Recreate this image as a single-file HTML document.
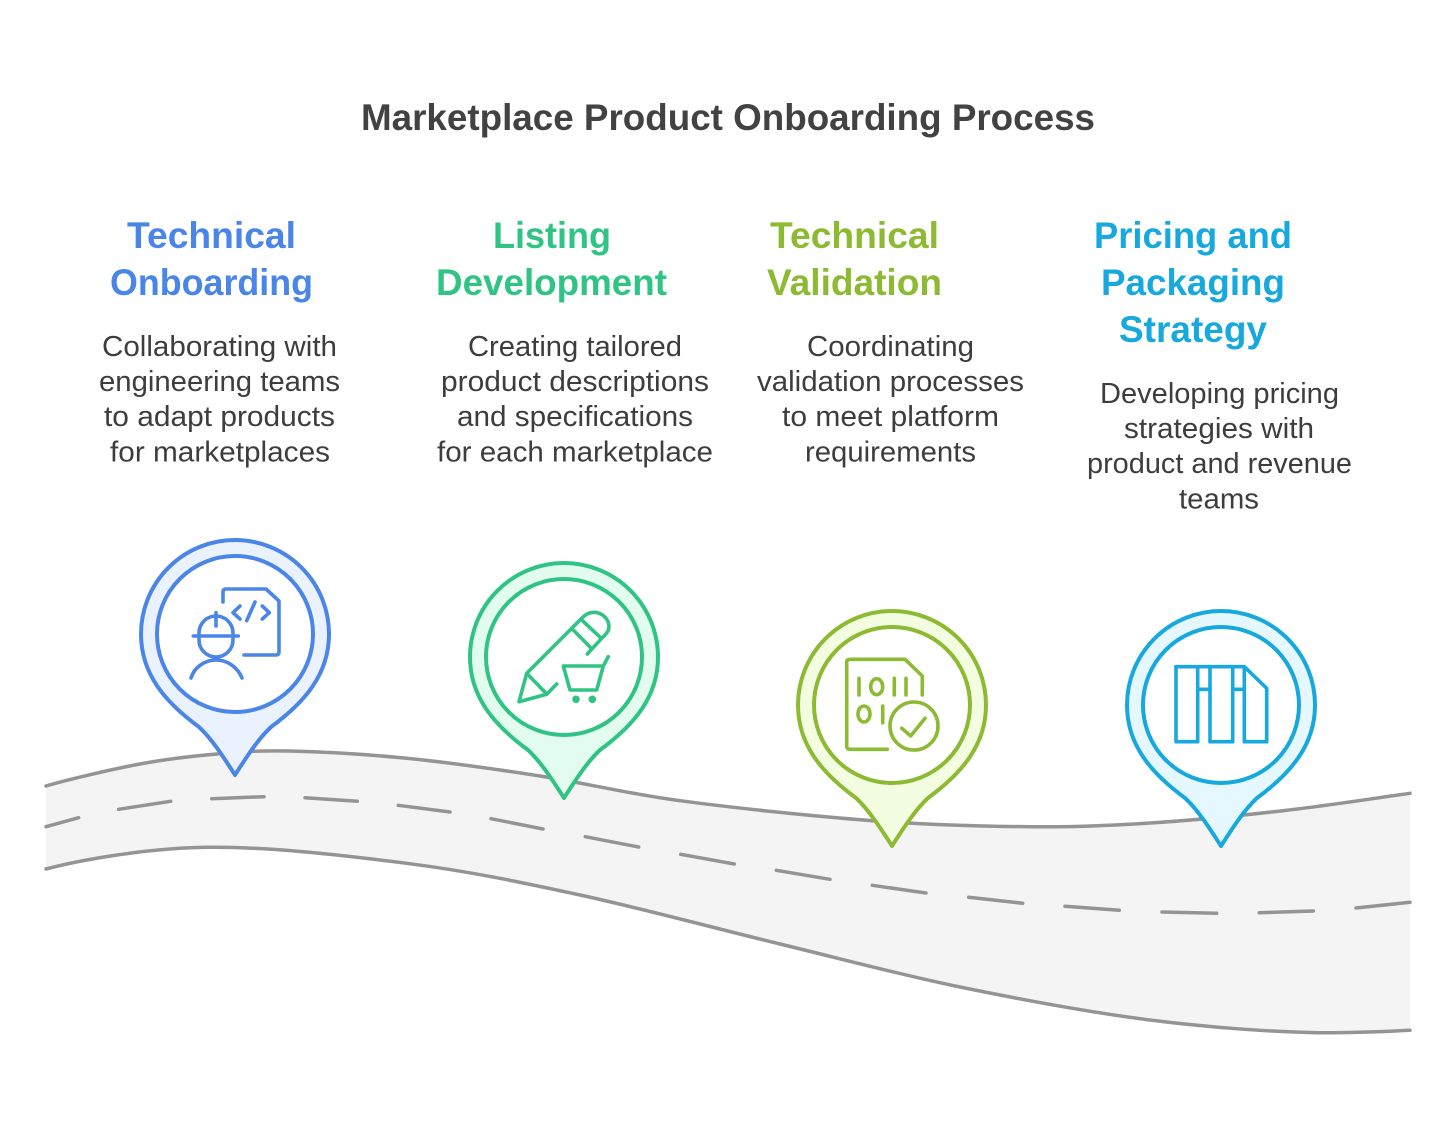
<!DOCTYPE html>
<html><head><meta charset="utf-8"><style>
html,body{margin:0;padding:0;background:#fff;width:1456px;height:1127px;overflow:hidden}
svg{display:block}
text{font-family:"Liberation Sans",sans-serif}
.t{font-weight:700;font-size:37px;fill:#424242}
.h{font-weight:700;font-size:37px}
.b{font-size:29px;fill:#3d3d3d}
.ic{fill:none;stroke-width:3.6;stroke-linecap:round;stroke-linejoin:round}
</style></head><body>
<svg width="1456" height="1127" viewBox="0 0 1456 1127" xmlns="http://www.w3.org/2000/svg">
<rect width="1456" height="1127" fill="#fff"/>
<text class="t" x="361" y="130" textLength="734" lengthAdjust="spacingAndGlyphs">Marketplace Product Onboarding Process</text>

<g class="h" fill="#4a85e8">
<text x="127" y="248" textLength="169" lengthAdjust="spacingAndGlyphs">Technical</text>
<text x="110" y="295" textLength="203" lengthAdjust="spacingAndGlyphs">Onboarding</text>
</g>
<g class="h" fill="#2fc483">
<text x="493" y="248" textLength="118" lengthAdjust="spacingAndGlyphs">Listing</text>
<text x="436" y="295" textLength="231" lengthAdjust="spacingAndGlyphs">Development</text>
</g>
<g class="h" fill="#8cba33">
<text x="770" y="248" textLength="169" lengthAdjust="spacingAndGlyphs">Technical</text>
<text x="767" y="295" textLength="175" lengthAdjust="spacingAndGlyphs">Validation</text>
</g>
<g class="h" fill="#17a8de">
<text x="1094" y="248" textLength="198" lengthAdjust="spacingAndGlyphs">Pricing and</text>
<text x="1101" y="295" textLength="184" lengthAdjust="spacingAndGlyphs">Packaging</text>
<text x="1119" y="342" textLength="148" lengthAdjust="spacingAndGlyphs">Strategy</text>
</g>

<g class="b">
<text x="102" y="356" textLength="235" lengthAdjust="spacingAndGlyphs">Collaborating with</text>
<text x="99" y="391" textLength="241" lengthAdjust="spacingAndGlyphs">engineering teams</text>
<text x="104" y="426" textLength="231" lengthAdjust="spacingAndGlyphs">to adapt products</text>
<text x="110" y="461.500" textLength="220" lengthAdjust="spacingAndGlyphs">for marketplaces</text>

<text x="468" y="356" textLength="214" lengthAdjust="spacingAndGlyphs">Creating tailored</text>
<text x="441" y="391" textLength="268" lengthAdjust="spacingAndGlyphs">product descriptions</text>
<text x="457" y="426" textLength="236" lengthAdjust="spacingAndGlyphs">and specifications</text>
<text x="437" y="461.500" textLength="276" lengthAdjust="spacingAndGlyphs">for each marketplace</text>

<text x="807" y="356" textLength="167" lengthAdjust="spacingAndGlyphs">Coordinating</text>
<text x="757" y="391" textLength="267" lengthAdjust="spacingAndGlyphs">validation processes</text>
<text x="782" y="426" textLength="217" lengthAdjust="spacingAndGlyphs">to meet platform</text>
<text x="805" y="461.500" textLength="171" lengthAdjust="spacingAndGlyphs">requirements</text>

<text x="1100" y="403" textLength="239" lengthAdjust="spacingAndGlyphs">Developing pricing</text>
<text x="1124" y="438" textLength="190" lengthAdjust="spacingAndGlyphs">strategies with</text>
<text x="1087" y="473" textLength="265" lengthAdjust="spacingAndGlyphs">product and revenue</text>
<text x="1179" y="508.500" textLength="80" lengthAdjust="spacingAndGlyphs">teams</text>
</g>

<!-- road -->
<path d="M46,786 C64,780.5 111.6,769.3 140,764 C168.4,758.67 191.7,756.17 216.7,754 C241.7,751.83 258.3,750.28 290,751 C321.7,751.72 365,754.13 406.7,758.3 C448.4,762.47 494.5,768.93 540,776 C585.5,783.07 624.5,793.25 680,800.7 C735.5,808.15 814.7,816.37 873,820.7 C931.3,825.03 983.8,826.32 1030,826.7 C1076.2,827.08 1107.8,825.67 1150,823 C1192.2,820.33 1239.7,815.65 1283,810.7 C1326.3,805.75 1369,799.1 1410,793.3 L1410,1030.3 C1385,1031.5 1345,1033 1317,1032.7 C1273.7,1032 1209.5,1027.6 1150,1020 C1090.5,1012.4 1021.7,999.67 960,987 C898.3,974.3 843.3,959.3 780,944 C716.7,928.7 642.2,908.45 580,895 C517.8,881.55 468.9,871.25 406.7,863.3 C344.5,855.35 266.8,846.4 206.7,847.3 C146,848.2 80,860 46,869 Z" fill="#f4f4f4"/>
<g fill="none" stroke="#949494" stroke-width="3.5" stroke-linecap="round">
<path d="M46,786 C64,780.5 111.6,769.3 140,764 C168.4,758.67 191.7,756.17 216.7,754 C241.7,751.83 258.3,750.28 290,751 C321.7,751.72 365,754.13 406.7,758.3 C448.4,762.47 494.5,768.93 540,776 C585.5,783.07 624.5,793.25 680,800.7 C735.5,808.15 814.7,816.37 873,820.7 C931.3,825.03 983.8,826.32 1030,826.7 C1076.2,827.08 1107.8,825.67 1150,823 C1192.2,820.33 1239.7,815.65 1283,810.7 C1326.3,805.75 1369,799.1 1410,793.3"/>
<path d="M46,869 C80,860 146,848.2 206.7,847.3 C266.8,846.4 344.5,855.35 406.7,863.3 C468.9,871.25 517.8,881.55 580,895 C642.2,908.45 716.7,928.7 780,944 C843.3,959.3 898.3,974.3 960,987 C1021.7,999.67 1090.5,1012.4 1150,1020 C1209.5,1027.6 1273.7,1032 1317,1032.7 C1345,1033 1385,1031.5 1410,1030.3"/>
<path d="M46,826.7 L78.700,817.7 M118.700,809.3 L170.700,801.3 M211.700,798.7 L264,796.7 M305,797.7 L357.300,801.3 M398.300,805.3 L450,812 M491,818.7 L543,829 M585.300,836.7 L638.700,847 M680.700,854.300 L734.300,864 M776.300,870.3 L830,879.3 M872.300,885.3 L926,893 M968.700,897.3 L1022.700,903.3 M1065,906.3 L1119.300,910.3 M1162,912 L1216.700,913.3 M1259.300,912.7 L1313.300,911 M1356,908 L1410,902.3"/>
</g>

<!-- pin 1 -->
<g transform="translate(235,634)">
<path d="M0,141 C-9,127 -22,106 -36,93 C-70,68 -94,40 -94,0 A94,94 0 0 1 94,0 C94,40 70,68 36,93 C22,106 9,127 0,141 Z" fill="#eaf2ff" stroke="#4a85e8" stroke-width="4" stroke-linejoin="round"/>
<circle r="78" fill="#fff" stroke="#4a85e8" stroke-width="4"/>
</g>
<g class="ic" stroke="#4a85e8">
<path d="M223,602 V592 Q223,589 226,589 H266 L279,601 V652 Q279,655 276,655 H244"/>
<path d="M240,606 L233,612.7 L240,619 M262.3,606 L269.3,612.7 L262.3,619 M255,602 L246.7,620.7"/>
<path d="M199,636 V633 A17,17 0 0 1 233,633 V640 A17,17 0 0 1 199,640 Z M193.3,636 H238.3 M216,612.7 V626"/>
<path d="M191,678 C194,668 204,660 216,660 C228,660 238,668 242,678"/>
</g>

<!-- pin 2 -->
<g transform="translate(564,657)">
<path d="M0,141 C-9,127 -22,106 -36,93 C-70,68 -94,40 -94,0 A94,94 0 0 1 94,0 C94,40 70,68 36,93 C22,106 9,127 0,141 Z" fill="#e2fdf0" stroke="#2fc483" stroke-width="4" stroke-linejoin="round"/>
<circle r="78" fill="#fff" stroke="#2fc483" stroke-width="4"/>
</g>
<g class="ic" stroke="#2fc483">
<path d="M556.7,684 L546.7,694.3 L519,701.7 L526.7,673.3 L581.7,618.3 C586,613.5 590,612.3 594,612.3 C602,612.3 609,619 609,626.7 C609,631 606,634.5 601.7,638.3 L587.3,654"/>
<path d="M528.3,675 L546,693.3 M573.3,630 L590.7,647.7 M581.7,620 L600.7,637.7"/>
<path d="M608.3,656.7 L603.3,666 H563.3 L570,690 H596.7 L603.3,666"/>
</g>
<circle cx="576" cy="699.3" r="3.8" fill="#2fc483"/>
<circle cx="592.3" cy="699.3" r="3.8" fill="#2fc483"/>

<!-- pin 3 -->
<g transform="translate(892,705)">
<path d="M0,141 C-9,127 -22,106 -36,93 C-70,68 -94,40 -94,0 A94,94 0 0 1 94,0 C94,40 70,68 36,93 C22,106 9,127 0,141 Z" fill="#f3fde0" stroke="#8cba33" stroke-width="4" stroke-linejoin="round"/>
<circle r="78" fill="#fff" stroke="#8cba33" stroke-width="4"/>
</g>
<g class="ic" stroke="#8cba33">
<path d="M887.3,749.3 H850 Q846.7,749.3 846.7,746 V662.5 Q846.7,659.3 850,659.3 H905 L922.3,676 V695"/>
<path d="M859,678.3 V695 M894.3,678.3 V695 M906,678.3 V695 M882.7,706 V722.7"/>
<ellipse cx="876.7" cy="686.7" rx="6" ry="8"/>
<ellipse cx="864" cy="714" rx="6" ry="8"/>
<circle cx="914" cy="726" r="24"/>
<path d="M901.7,728.3 L910.7,736 L925,718.3"/>
</g>

<!-- pin 4 -->
<g transform="translate(1221,705)">
<path d="M0,141 C-9,127 -22,106 -36,93 C-70,68 -94,40 -94,0 A94,94 0 0 1 94,0 C94,40 70,68 36,93 C22,106 9,127 0,141 Z" fill="#e5f7ff" stroke="#17a8de" stroke-width="4" stroke-linejoin="round"/>
<circle r="78" fill="#fff" stroke="#17a8de" stroke-width="4"/>
</g>
<g class="ic" stroke="#17a8de">
<path d="M1176,666.7 H1244.3 L1266.7,688.3 V741.7 H1244.3 V666.7"/>
<path d="M1176,666.7 V741.7 H1197.7 V666.7 M1210,666.7 V741.7 H1232.7 V666.7"/>
<path d="M1197.7,689.3 H1210 M1232.7,689.3 H1244.3"/>
</g>
</svg>
</body></html>
